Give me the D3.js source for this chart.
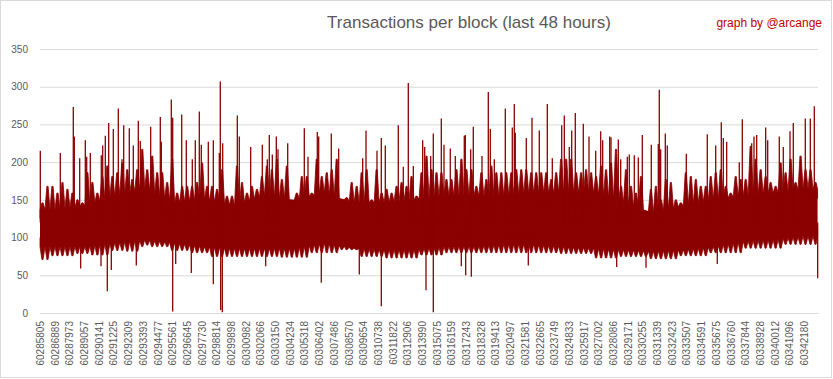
<!DOCTYPE html>
<html><head><meta charset="utf-8">
<script src="https://cdn.jsdelivr.net/npm/d3@7"></script>
<style>body{margin:0;background:#fff} svg{display:block}</style>
</head><body>
<svg id="c" width="833" height="379"></svg>
<script>
// ---- data ----
const firstBlock = 60285805;
const lastBlock = 60343214;
const tickBlocks = [60285805,60286889,60287973,60289057,60290141,60291225,60292309,60293393,60294477,60295561,60296645,60297730,60298814,60299898,60300982,60302066,60303150,60304234,60305318,60306402,60307486,60308570,60309654,60310738,60311822,60312906,60313990,60315075,60316159,60317243,60318328,60319413,60320497,60321581,60322665,60323749,60324833,60325917,60327002,60328086,60329171,60330255,60331339,60332423,60333507,60334591,60335675,60336760,60337844,60338928,60340012,60341096,60342180];
const yTicks = [0,50,100,150,200,250,300,350];
// solid core of the series (26 equal segments): top and bottom
const coreTop = [137,142,155,164,146,150,142,155,150,159,146,146,150,155,155,155,159,159,159,146,133,142,150,155,159,164];
const coreBottom = [88,88,93,97,93,88,86,86,86,93,86,84,84,88,88,91,91,88,86,84,82,84,88,95,97,102];
// ragged envelope of the series: per-bucket typical top and bottom (156 equal buckets)
const bodyHigh = [146,168,168,159,173,164,159,150,146,186,173,159,181,195,181,186,199,190,177,190,217,190,208,186,186,173,204,159,168,168,168,173,199,168,168,164,190,155,155,195,173,159,168,164,181,195,190,204,177,195,142,159,181,181,159,204,181,186,190,204,150,153,173,168,186,190,150,190,159,164,159,168,173,168,181,155,186,208,190,186,186,177,177,190,204,190,190,168,186,177,195,186,186,186,186,190,190,190,186,186,186,186,177,186,204,204,204,186,186,190,186,181,195,190,199,217,168,190,168,159,181,128,164,168,150,177,173,150,146,186,181,177,168,168,181,186,190,168,159,181,177,177,221,204,190,181,173,168,199,186,204,173,208,190,190,173];
const bodyLow = [71,71,76,76,76,76,76,79,79,79,77,77,77,77,83,83,83,82,82,82,88,90,88,88,88,88,83,83,83,83,80,80,80,80,75,75,75,75,75,75,75,75,75,75,75,75,75,75,74,74,74,74,74,74,80,80,80,80,80,80,84,84,84,84,75,75,75,75,75,73,73,73,73,73,73,73,77,77,77,77,77,80,80,80,80,80,80,80,80,80,80,80,80,80,80,80,80,80,80,80,80,80,80,80,79,79,79,79,79,79,79,73,73,73,73,73,75,75,75,75,75,75,72,72,72,72,72,72,76,76,76,76,76,76,80,80,80,80,80,80,80,86,86,86,86,86,86,86,86,91,91,91,91,91,91,91];
// isolated peaks
const peakBlocks = [60285827,60287303,60288262,60288336,60288734,60289148,60289251,60289517,60290328,60290432,60290624,60290874,60291214,60291583,60291856,60291981,60292394,60292690,60293059,60293206,60293974,60294682,60294756,60295494,60295597,60296261,60296601,60297043,60297264,60297560,60297707,60298224,60298593,60299036,60299109,60299286,60300364,60300511,60301353,60302209,60302577,60302725,60302947,60303242,60303367,60304083,60305308,60305581,60306267,60306370,60307300,60307846,60309617,60309861,60310672,60310990,60311285,60312244,60312613,60312982,60313351,60314044,60314192,60314635,60314827,60315417,60315616,60316081,60316450,60317114,60317188,60317586,60317778,60318420,60318885,60319033,60319328,60320140,60320656,60320804,60320877,60321689,60322110,60322648,60323239,60323608,60324301,60324493,60324862,60325039,60325305,60325895,60326316,60326810,60327179,60327327,60327843,60327939,60328478,60328655,60329142,60329290,60329658,60329954,60330249,60330913,60331429,60331503,60331606,60331946,60332093,60333496,60335045,60335665,60336078,60336226,60336477,60337406,60337628,60338321,60338491,60338690,60339354,60339502,60340358,60340653,60341148,60341391,60342276,60342645,60342941];
const peakValues = [215,212,273,234,205,229,207,212,209,222,235,252,244,271,204,249,245,222,255,228,247,260,227,283,259,263,229,204,229,267,223,227,229,212,307,225,262,234,220,223,204,236,210,234,217,225,245,207,240,234,238,218,205,242,215,232,222,249,194,305,195,229,220,208,238,258,223,218,208,235,236,217,247,208,293,244,204,271,246,277,239,232,259,242,277,205,249,262,220,242,265,251,234,215,241,229,234,233,230,204,207,210,209,206,236,223,224,296,217,238,222,211,237,222,253,232,227,200,257,225,234,236,246,229,234,220,241,252,258,258,274];
// isolated dips
const dipBlocks = [60288808,60290306,60290771,60291066,60292911,60295597,60295818,60296970,60298593,60299139,60299257,60302459,60306562,60309366,60310990,60314288,60314827,60316893,60317217,60317631,60321837,60328360,60330522,60335782,60343191];
const dipValues = [59,62,29,57,63,2,65,53,38,4,1,62,40,51,9,30,1,62,50,48,63,61,60,65,46];

// ---- chart ----
const W = 833, H = 379;
const plot = {left: 40, right: 818, top: 49, bottom: 313};
const red = "#8b0000";
const font = "'Liberation Sans', Arial, sans-serif";
const svg = d3.select("#c");

svg.append("rect").attr("x",0.5).attr("y",0.5).attr("width",W-2).attr("height",H-2)
  .attr("fill","#fff").attr("stroke","#d9d9d9");

const x = d3.scaleLinear().domain([firstBlock, lastBlock]).range([plot.left, plot.right]);
const y = d3.scaleLinear().domain([0, 350]).range([plot.bottom, plot.top]);

// gridlines + y labels
const yAxis = d3.axisLeft(y).tickValues(yTicks).tickSize(-(plot.right - plot.left)).tickPadding(12);
const gy = svg.append("g").attr("transform", `translate(${plot.left},0)`).call(yAxis);
gy.select(".domain").remove();
gy.selectAll("line").attr("stroke","#d9d9d9").attr("stroke-width",1);
gy.selectAll("text").attr("fill","#595959").style("font-family",font).style("font-size","10px");

// x labels
const gx = svg.append("g").attr("transform", `translate(0,${plot.bottom})`)
  .call(d3.axisBottom(x).tickValues(tickBlocks).tickSize(0).tickFormat(d3.format("d")));
gx.select(".domain").attr("stroke","#d9d9d9");
gx.selectAll("text")
  .attr("transform","rotate(-90)")
  .attr("text-anchor","end")
  .attr("x",-8).attr("y",0).attr("dy","0.35em")
  .attr("fill","#595959")
  .style("font-family",font).style("font-size","10px");

// series
const span = lastBlock - firstBlock;
const endBlock = lastBlock - 30;
const nc = coreTop.length;
const cStep = span / nc;
const corePts = coreTop.map((t, i) => ({b: firstBlock + (i + 0.5) * cStep, top: t, bot: coreBottom[i]}));
corePts.unshift({b: firstBlock, top: coreTop[0], bot: coreBottom[0]});
corePts.push({b: endBlock, top: coreTop[nc-1], bot: coreBottom[nc-1]});
const coreTopAt = d3.scaleLinear().domain(corePts.map(d => d.b)).range(corePts.map(d => d.top));
const coreBotAt = d3.scaleLinear().domain(corePts.map(d => d.b)).range(corePts.map(d => d.bot));

const g = svg.append("g");
g.append("path").datum(corePts).attr("fill", red)
  .attr("d", d3.area().x(d => x(d.b)).y0(d => y(d.bot)).y1(d => y(d.top)));

// ragged fringes: one tooth per bucket, valleys on the core edge
const n = bodyHigh.length;
const bStep = span / n;
const upPts = [{b: firstBlock, v: coreTopAt(firstBlock)}];
const dnPts = [{b: firstBlock, v: coreBotAt(firstBlock)}];
bodyHigh.forEach((h, i) => {
  const c = firstBlock + (i + 0.5) * bStep;
  const z = Math.min(endBlock, firstBlock + (i + 1) * bStep);
  upPts.push({b: c - 0.12 * bStep, v: h}, {b: c + 0.12 * bStep, v: h}, {b: z, v: coreTopAt(z)});
  dnPts.push({b: c - 0.12 * bStep, v: bodyLow[i]}, {b: c + 0.12 * bStep, v: bodyLow[i]}, {b: z, v: coreBotAt(z)});
});
g.append("path").datum(upPts).attr("fill", red).attr("stroke", red).attr("stroke-width", 0.8).attr("stroke-linejoin","round")
  .attr("d", d3.area().x(d => x(d.b)).y0(d => y(coreTopAt(d.b) - 12)).y1(d => y(d.v)));
g.append("path").datum(dnPts).attr("fill", red).attr("stroke", red).attr("stroke-width", 0.8).attr("stroke-linejoin","round")
  .attr("d", d3.area().x(d => x(d.b)).y0(d => y(d.v)).y1(d => y(coreBotAt(d.b) + 12)));

// peaks and dips
const mid = 120;
g.append("g").selectAll("line").data(peakBlocks).join("line")
  .attr("x1", d => x(d)).attr("x2", d => x(d))
  .attr("y1", y(mid)).attr("y2", (d, i) => y(peakValues[i]))
  .attr("stroke", red).attr("stroke-width", 1.3);
g.append("g").selectAll("line").data(dipBlocks).join("line")
  .attr("x1", d => x(d)).attr("x2", d => x(d))
  .attr("y1", y(mid)).attr("y2", (d, i) => y(dipValues[i]))
  .attr("stroke", red).attr("stroke-width", 1.3);

// titles
svg.append("text").attr("x", 469).attr("y", 28).attr("text-anchor","middle")
  .attr("fill","#595959")
  .style("font-family",font).style("font-size","17px")
  .text("Transactions per block (last 48 hours)");
svg.append("text").attr("x", 822).attr("y", 27).attr("text-anchor","end")
  .attr("fill","#c00000")
  .style("font-family",font).style("font-size","12px")
  .text("graph by @arcange");
</script>
</body></html>
